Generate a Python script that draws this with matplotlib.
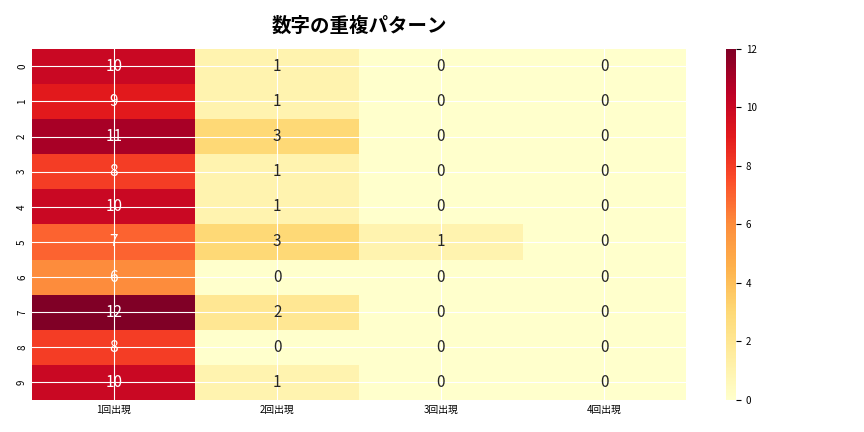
import matplotlib
matplotlib.use("Agg")
import matplotlib.pyplot as plt
import seaborn as sns
import numpy as np

plt.rcParams["font.family"] = "Noto Sans CJK JP"

columns = ["1回出現", "2回出現", "3回出現", "4回出現"]
rows = [str(i) for i in range(10)]
once = [10, 9, 11, 8, 10, 7, 6, 12, 8, 10]
twice = [1, 1, 3, 1, 1, 3, 0, 2, 0, 1]
thrice = [0, 0, 0, 0, 0, 1, 0, 0, 0, 0]
four = [0, 0, 0, 0, 0, 0, 0, 0, 0, 0]

data = np.array([once, twice, thrice, four]).T

fig = plt.figure(figsize=(8.64, 4.32), dpi=100)
ax = fig.add_axes([0.037, 0.074, 0.757, 0.813])
cax = fig.add_axes([0.840, 0.074, 0.012, 0.813])
sns.heatmap(data, ax=ax, cbar_ax=cax, cmap="YlOrRd", vmin=0, vmax=12,
            annot=True, fmt="d", annot_kws={"size": 11},
            xticklabels=columns, yticklabels=rows)
ax.grid(True, color="white", linewidth=0.8)
ax.set_axisbelow(False)
ax.tick_params(labelsize=7, length=0)
cax.tick_params(labelsize=7)
ax.set_title("数字の重複パターン", fontsize=14, fontweight="bold", pad=12)
fig.savefig("out.png")
